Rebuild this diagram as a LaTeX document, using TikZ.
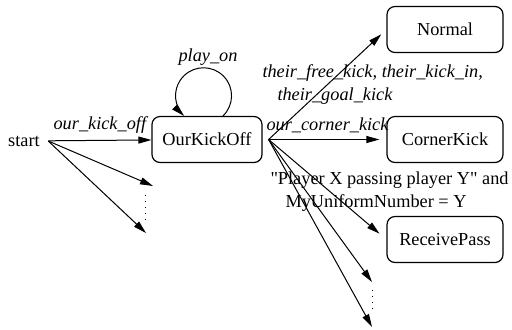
\documentclass[tikz,border=0pt]{standalone}
\usepackage{fontspec}
\setmainfont{Liberation Serif}[Ligatures=TeXOff]
\usetikzlibrary{arrows.meta,positioning}

\begin{document}
\begin{tikzpicture}[x=0.5pt,y=0.5pt,node distance=119pt,on grid,line width=0.5pt,>={Triangle[length=6.5pt,width=3.5pt]}]
        \fontsize{9.15}{11.5}\selectfont
        \tikzstyle{state_node}=[rounded corners=4pt,draw=black,line width=0.6pt,minimum width=58pt,minimum height=23pt]
        \tikzstyle{cond_label}=[font=\itshape,inner sep=3pt]
        \useasboundingbox (0,0) rectangle (512,329);
        \node[inner sep=4pt]  (start) at (24,188)                 {start};
        \node[state_node,minimum width=55pt]  (ourkick) at (207,189.5)  {OurKickOff};
        \node[state_node]  (corner) [right=of ourkick]            {CornerKick};
        \node[state_node]  (normal) [above=55pt of corner]        {Normal};
        \node[state_node]  (receive) [below=50pt of corner]       {ReceivePass};

    \coordinate (hub) at ([xshift=3pt]ourkick.east);
    \coordinate (loopfoot) at ([xshift=8pt]ourkick.north);
    \coordinate (s1) at (153,143);
    \coordinate (s2) at (146,96);
    \coordinate (r1) at (372,47);
    \coordinate (r2) at (372,2);

    \node[cond_label,inner sep=0pt]  (playlbl) at (208,272) {play\_on};
    \node[cond_label,align=left,anchor=west,inner sep=0pt]  (theirlbl) at (262,245)
        {their\_free\_kick, their\_kick\_in,\\\hspace*{7.5pt}their\_goal\_kick};
    \node[align=left,anchor=west,inner sep=0pt]  (passlbl) at (270,137.5)
        {"Player X passing player Y" and\\\hspace*{7.5pt}MyUniformNumber = Y};

    \draw[->] (loopfoot) arc[start angle=-46,end angle=226,radius=14pt];

    \path[->]
    (start) edge                node[cond_label,above] {our\_kick\_off}  (ourkick)
    (start.east) edge                      (s1)
    (start.east) edge                      (s2)
    (hub) edge[shorten >=3.5pt]                      (normal.west)
    (hub) edge[shorten >=3.5pt] node[cond_label,above] {our\_corner\_kick}  (corner.west)
    (hub) edge[shorten >=4.5pt]                      (receive.west)
    (hub) edge                      (r1)
    (hub) edge                      (r2);

    % the dotted gaps
    \draw[dash pattern=on 0.5pt off 2.5pt] (145,134) -- (145,109);
    \draw[dash pattern=on 0.5pt off 2.5pt] (372,39) -- (372,19);
    \end{tikzpicture}
\end{document}
